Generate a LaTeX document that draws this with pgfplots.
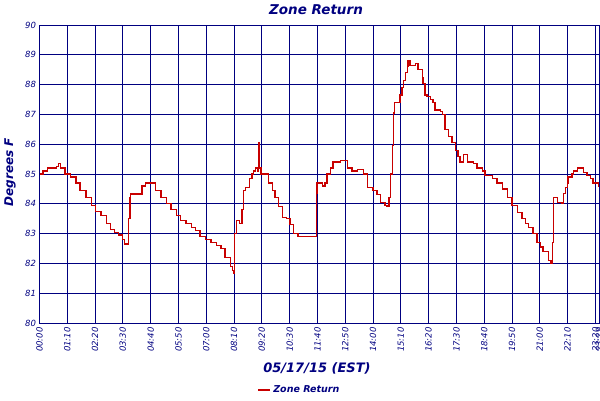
\documentclass[border=0pt]{standalone}
\usepackage{pgfplots}
\pgfplotsset{compat=1.18}
\usepackage{fontspec}
\setmainfont{DejaVu Sans}

\definecolor{gridnavy}{RGB}{0,0,128}
\definecolor{linered}{RGB}{200,0,0}

% zone return temperature, minutes after midnight vs degrees F
\pgfplotstableread{
t v
1 85.0
9 85.1
21 85.2
42 85.25
47 85.35
52 85.2
64 85.0
79 84.9
92 84.7
102 84.45
117 84.2
130 83.95
142 83.75
155 83.6
168 83.35
178 83.15
188 83.05
198 82.95
210 82.8
215 82.65
223 82.65
225 83.5
228 84.2
230 84.33
253 84.33
258 84.6
266 84.7
281 84.7
293 84.45
306 84.2
319 84.0
331 83.8
344 83.6
356 83.45
369 83.35
382 83.2
392 83.1
404 82.9
419 82.8
432 82.7
445 82.6
457 82.5
467 82.2
480 81.9
487 81.75
490 81.65
492 83.0
497 83.45
503 83.35
510 83.8
513 84.45
518 84.55
523 84.55
528 84.85
535 85.0
538 85.1
543 85.2
548 85.1
551 85.2
553 86.05
555 85.2
558 85.0
573 85.0
576 84.7
586 84.45
593 84.2
601 83.9
611 83.55
623 83.5
631 83.3
639 83.0
651 82.9
694 82.9
697 84.35
699 84.7
712 84.6
719 84.7
724 85.0
732 85.2
739 85.4
757 85.45
770 85.45
775 85.2
782 85.2
787 85.1
800 85.15
815 85.0
825 84.55
840 84.45
850 84.3
858 84.05
870 83.95
875 83.9
880 84.2
883 85.0
888 85.95
891 87.05
895 87.4
903 87.4
908 87.65
913 87.9
916 88.15
921 88.4
926 88.6
928 88.8
933 88.65
941 88.65
946 88.7
953 88.5
964 88.25
966 88.05
971 87.65
976 87.6
984 87.5
991 87.4
996 87.15
1009 87.1
1014 87.0
1021 86.5
1029 86.25
1039 86.05
1047 85.8
1054 85.6
1059 85.4
1067 85.65
1077 85.4
1092 85.35
1102 85.2
1115 85.1
1122 84.95
1140 84.85
1152 84.7
1165 84.5
1178 84.2
1190 83.95
1203 83.7
1215 83.5
1223 83.35
1231 83.2
1243 83.0
1253 82.7
1261 82.55
1268 82.4
1281 82.1
1288 82.0
1291 82.7
1294 84.2
1304 84.05
1316 84.0
1319 84.35
1324 84.55
1329 84.7
1331 84.9
1341 85.0
1344 85.1
1354 85.2
1366 85.2
1369 85.05
1379 84.95
1387 84.85
1394 84.7
1407 84.55
}\zonereturn

\begin{document}
\begin{tikzpicture}
\path[use as bounding box] (0pt,0pt) rectangle (600pt,400pt);
\begin{axis}[
    at={(39.5pt,77pt)}, anchor=south west,
    scale only axis,
    width=559.5pt, height=298pt,
    xmin=0, xmax=1409,
    ymin=80, ymax=90,
    xtick={0,70,140,210,280,350,420,490,560,630,700,770,840,910,980,1050,1120,1190,1260,1330,1400,1409},
    xticklabels={00:00,01:10,02:20,03:30,04:40,05:50,07:00,08:10,09:20,10:30,11:40,12:50,14:00,15:10,16:20,17:30,18:40,19:50,21:00,22:10,23:20,23:29},
    ytick={80,81,82,83,84,85,86,87,88,89,90},
    xmajorgrids, ymajorgrids,
    major grid style={gridnavy, line width=1pt},
    axis line style={gridnavy, line width=1pt},
    major tick length=0pt,
    tick label style={gridnavy, font=\fontsize{8.5}{9}\selectfont\itshape},
    /pgf/number format/assume math mode=true,
    x tick label style={rotate=90, anchor=east, xshift=-0.8pt},
    legend style={at={(axis description cs:0.389,-0.225)}, anchor=west,
        draw=none, fill=none, inner sep=0pt,
        font=\fontsize{9.5}{10}\selectfont\bfseries\itshape, text=gridnavy},
    legend image code/.code={\draw[#1, line width=2pt] (0pt,0pt) -- (12pt,0pt);},
]
\addplot[const plot, linered, line width=1.2pt] table[x=t, y=v] {\zonereturn};
\addlegendentry{Zone Return}
\end{axis}
\node[gridnavy, font=\fontsize{13.5}{14}\selectfont\bfseries\itshape] at (316pt,390pt) {Zone Return};
\node[gridnavy, rotate=90, font=\fontsize{12}{13}\selectfont\bfseries\itshape] at (10pt,228pt) {Degrees F};
\node[gridnavy, font=\fontsize{13}{14}\selectfont\bfseries\itshape] at (317pt,32pt) {05/17/15 (EST)};
\end{tikzpicture}
\end{document}
